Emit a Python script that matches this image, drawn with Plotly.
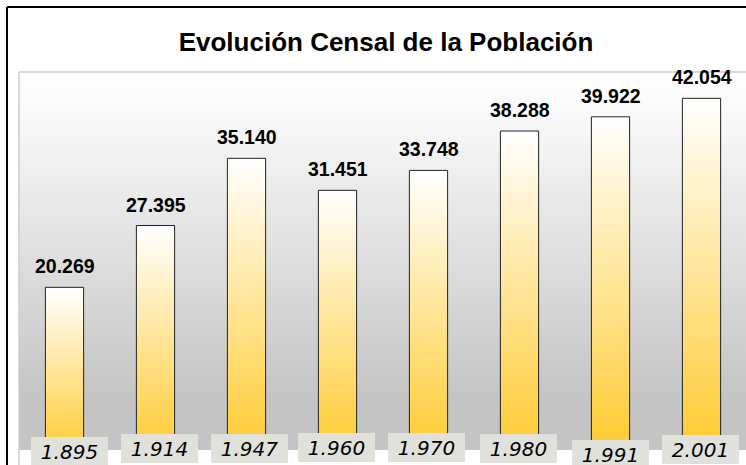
import base64
import plotly.graph_objects as go

# ---- data ----
categories = ["1.895", "1.914", "1.947", "1.960", "1.970", "1.980", "1.991", "2.001"]
values = [20.269, 27.395, 35.140, 31.451, 33.748, 38.288, 39.922, 42.054]
value_labels = ["20.269", "27.395", "35.140", "31.451", "33.748", "38.288", "39.922", "42.054"]
title_text = "Evolución Censal de la Población"

# ---- styling ----
W, H = 770, 465               # figure a bit wider than the 746px window: chart is cropped at right
L, T, B = 19, 72, 15          # margins (px)
PLOT_W = W - L
PLOT_H = H - T - B
CAT_PX = 91.0                 # pixel pitch of one category
X_RANGE = [-0.5, -0.5 + PLOT_W / CAT_PX]
Y_RANGE = [1.52, 45.09]
BAR_HALF = 0.21
label_yshift = [-1, 2, 2, 3, 2.5, 2, -4, 1]
label_xshift = [5, 4, 3, -1, -2, -1, 0, -1]

fig = go.Figure()

idx = list(range(len(categories)))
for i, v in zip(idx, values):
    fig.add_trace(go.Scatter(
        x=[i - BAR_HALF, i - BAR_HALF, i + BAR_HALF, i + BAR_HALF, i - BAR_HALF],
        y=[0, v, v, 0, 0],
        mode="lines",
        fill="toself",
        fillgradient=dict(type="vertical",
                          colorscale=[[0, "#ffc928"], [1, "#ffffff"]]),
        line=dict(color="#222222", width=1),
        hoverinfo="skip",
        showlegend=False,
    ))

# value labels
for i, v, lab in zip(idx, values, value_labels):
    fig.add_annotation(x=i, y=v, xref="x", yref="y", text=lab, showarrow=False,
                       yanchor="bottom", yshift=8,
                       font=dict(family="Liberation Sans, Arial", size=19.5,
                                 color="#000000", weight="bold"))

# category labels in boxes
for i, c, ys, xs in zip(idx, categories, label_yshift, label_xshift):
    fig.add_annotation(x=i, y=0, xref="x", yref="paper", text=c, showarrow=False,
                       yanchor="middle", yshift=ys, xshift=xs,
                       width=77, height=29, bgcolor="#e1e1dc",
                       borderpad=0, borderwidth=0,
                       font=dict(family="DejaVu Sans", size=20, color="#000000",
                                 style="italic"))

# background gradient of plot area
svg = ('<svg xmlns="http://www.w3.org/2000/svg" width="200" height="400" preserveAspectRatio="none">'
       '<defs><linearGradient id="g" x1="0" y1="0" x2="0" y2="1">'
       '<stop offset="0" stop-color="#ffffff"/>'
       '<stop offset="0.08" stop-color="#fbfbfb"/>'
       '<stop offset="0.87" stop-color="#c4c4c4"/>'
       '<stop offset="1" stop-color="#c4c4c4"/>'
       '</linearGradient></defs><rect width="200" height="400" fill="url(#g)"/></svg>')
src = "data:image/svg+xml;base64," + base64.b64encode(svg.encode()).decode()
fig.add_layout_image(source=src, xref="paper", yref="paper", x=0, y=1,
                     sizex=1.02, sizey=1, sizing="stretch", layer="below",
                     xanchor="left", yanchor="top")

def px_x(px):
    return (px - L) / PLOT_W

def px_y(py):
    return (H - B - py) / PLOT_H

# outer chart border (top and left edges visible in the crop)
for x0, x1, y0, y1 in [(px_x(7), px_x(820), px_y(7), px_y(7)),
                       (px_x(7), px_x(7), px_y(7), px_y(500))]:
    fig.add_shape(type="line", xref="paper", yref="paper", x0=x0, x1=x1, y0=y0, y1=y1,
                  line=dict(color="#000000", width=2), layer="above")
# plot area border (top and left)
for x0, x1, y0, y1 in [(0, px_x(820), 1, 1), (0, 0, 1, px_y(500))]:
    fig.add_shape(type="line", xref="paper", yref="paper", x0=x0, x1=x1, y0=y0, y1=y1,
                  line=dict(color="#cdcdcd", width=1.5), layer="below")

fig.update_layout(
    width=W, height=H,
    margin=dict(l=L, r=0, t=T, b=B, autoexpand=False),
    paper_bgcolor="#ffffff",
    plot_bgcolor="rgba(0,0,0,0)",
    title=dict(text=title_text, x=386 / W, xanchor="center",
               y=1 - 42 / H, yanchor="middle", yref="container",
               font=dict(family="Liberation Sans, Arial", size=26, color="#000000",
                         weight="bold")),
    xaxis=dict(range=X_RANGE, showticklabels=False, showgrid=False,
               zeroline=False, ticks="", fixedrange=True, showline=False),
    yaxis=dict(range=Y_RANGE, showticklabels=False, showgrid=False,
               zeroline=False, ticks="", fixedrange=True, showline=False),
    showlegend=False,
)

fig.write_html("out.html", config={"displayModeBar": False},
               post_script="document.body.style.margin='0';document.body.style.overflow='hidden';")
